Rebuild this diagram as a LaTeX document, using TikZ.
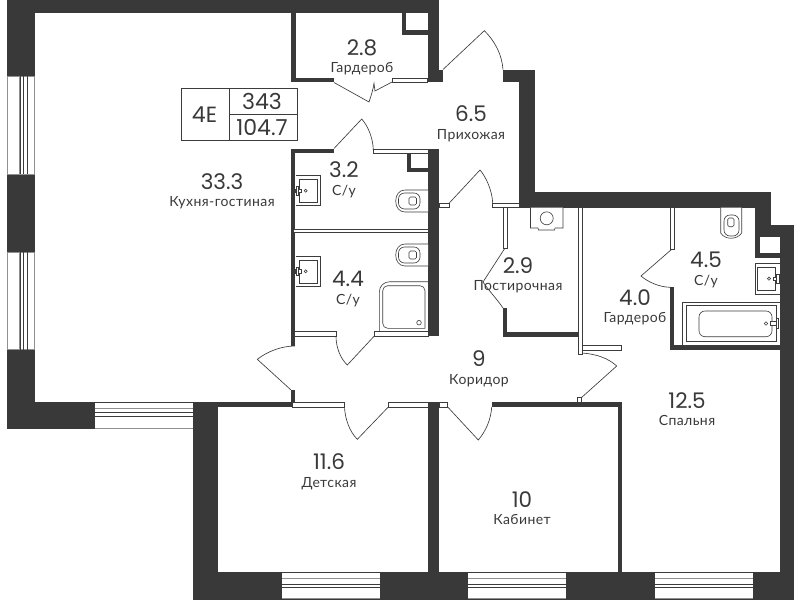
\documentclass[tikz,border=0pt]{standalone}
\usepackage{fontspec}
\setmainfont{Lato}
\newfontfamily\numfont{Poppins}
\newfontfamily\labfont[LetterSpace=3]{Lato}
\definecolor{wallc}{HTML}{393939}
\definecolor{linec}{HTML}{3C3C3C}
\definecolor{greyc}{HTML}{909090}
\tikzset{
  wallfill/.style={fill=wallc,draw=none},
  frameb/.style={fill=white,draw=linec,line width=0.7pt},
  thinl/.style={draw=linec,line width=0.65pt},
  fix/.style={draw=linec,line width=0.6pt,fill=white},
  greyl/.style={draw=greyc,line width=1pt},
  numt/.style={font=\numfont\fontsize{21.5}{21.5}\selectfont,text=wallc,inner sep=0pt,yshift=0.5pt},
  labt/.style={font=\labfont\fontsize{14}{14}\selectfont,text=wallc,inner sep=0pt,anchor=base,yshift=-5pt},
  boxt/.style={font=\numfont\fontsize{22}{22}\selectfont,text=wallc,inner sep=0pt},
}
\newcommand{\Wl}[4]{\fill[wallfill] (#1,#2) rectangle (#3,#4);}
\newcommand{\Fr}[4]{\draw[frameb] (#1,#2) rectangle (#3,#4);}
\begin{document}
\begin{tikzpicture}[x=1pt,y=-1pt]
\useasboundingbox (0,0) rectangle (800,600);
\fill[white] (0,0) rectangle (800,600);
% --- walls
\Wl{7}{0}{439}{13}
\Wl{7}{0}{35}{429}
\Wl{7}{402}{193}{429}
\Wl{193}{402}{218}{600}
\Wl{193}{571.5}{794}{599.5}
\Wl{218}{402}{293}{407}
\Wl{428}{402}{439}{572}
\Wl{491.7}{402}{622}{407}
\Wl{618}{402}{622}{572}
\Wl{780}{225}{794}{600}
\Wl{771}{225}{794}{237}
\Wl{535}{192}{771}{207.7}
\Wl{755}{192}{771}{237}
\Wl{755}{207}{760}{258}
\Wl{755}{252.7}{780}{258}
\Wl{519}{69.5}{535}{207.7}
\Wl{503}{69.5}{535}{82}
\Wl{291}{13}{295.7}{82}
\Wl{291}{78}{334}{82}
\Wl{428}{13}{439}{82}
\Wl{428}{69.5}{443}{82}
\Wl{401.5}{13}{405.7}{35}
\Wl{401.5}{30}{428}{35}
\Wl{291}{149}{334}{153}
\Wl{291}{149}{295}{346}
\Wl{291}{390}{295}{407}
\Wl{428}{149}{439}{336}
\Wl{407}{149}{411.3}{172.3}
\Wl{407}{168}{428}{172.3}
\Wl{503.3}{308}{507.3}{336.5}
\Wl{503.3}{332.3}{580}{336.5}
\Wl{670}{287.3}{674.3}{349.5}
\Wl{670}{345}{780}{349.5}
% --- left windows
\foreach \ya/\yb in {76/174,252/349.5}{
  \fill[white] (7,\ya) rectangle (35,\yb);
  \draw[greyl] (7.4,\ya) -- (7.4,\yb) (34.6,\ya) -- (34.6,\yb);
  \draw[greyl,line width=0.5pt] (7,\ya) -- (35,\ya) (7,\yb) -- (35,\yb);
  \draw[greyl] (19.2,\ya) -- (19.2,\yb);
  \draw[thinl] (23,\ya) -- (23,\yb) (27.5,\ya) -- (27.5,\yb) (20,\ya) -- (20,\yb);
}
% --- bottom windows
\fill[white] (94.5,402.6) rectangle (193,429);
\draw[thinl] (94.5,402.4) -- (193,402.4) (94.5,412.7) -- (193,412.7) (94.5,416.2) -- (193,416.2);
\draw[greyl] (94.5,408.3) -- (193,408.3) (94.5,428.5) -- (193,428.5);
\foreach \xa/\xb in {282/379.5,468/566,654.7/752.8}{
  \fill[white] (\xa,572) rectangle (\xb,599);
  \draw[greyl] (\xa,578.3) -- (\xb,578.3) (\xa,598.7) -- (\xb,598.7);
  \draw[thinl] (\xa,572.3) -- (\xb,572.3) (\xa,584) -- (\xb,584) (\xa,587.3) -- (\xb,587.3);
}
% --- partition frames
\Fr{392}{78.3}{427.7}{82.3}
\Fr{373.3}{149}{428}{153}
\Fr{293}{229}{428}{232.7}
\Fr{294.3}{331}{336}{336}
\Fr{374.5}{331}{428}{336}
\Fr{292.7}{402}{344.3}{407}
\Fr{388.3}{402}{428}{407}
\Fr{439}{402}{447.7}{407}
\Fr{439.3}{203}{449.3}{207}
\Fr{492.7}{203}{519}{207}
\Fr{503.3}{207}{507.3}{248}
\Fr{578}{207.7}{582.7}{354}
\Fr{582.7}{345}{621}{350}
\Fr{670}{207.7}{674.3}{249}
\Fr{577.7}{397}{581.7}{402}
% --- doors
\draw[thinl] (334,82.5) -- (369,102) .. controls (371,96) and (373,90) .. (374,83.3) .. controls (374.5,86) and (374.5,88.5) .. (375,91) -- (392,82);
\draw[thinl] (443,69.5) -- (484.3,30.7) .. controls (495,41) and (502,55) .. (503,69.5);
\draw[thinl] (334,148.5) -- (361.7,119) .. controls (368,126) and (373,138) .. (373.3,150);
\draw[thinl] (449.3,203) -- (480,170) .. controls (486,177) and (492,190) .. (492.7,203);
\draw[thinl] (505,248) -- (483,282) .. controls (489,291) and (497,299) .. (503,308);
\draw[thinl] (582,353) .. controls (596,354) and (608,358) .. (616.7,366) -- (581,398);
\draw[thinl] (672,249) -- (641,276) .. controls (648,282) and (659,287) .. (670,287.3);
\draw[thinl] (295,346) .. controls (282,346) and (268,351) .. (257.3,359.3) -- (291,390);
\draw[thinl] (336,336) .. controls (336,347) and (340,358) .. (347.3,365) -- (374.3,336);
\draw[thinl] (344.5,407) .. controls (345,418) and (349,431) .. (357.3,439.3) -- (388.3,407);
\draw[thinl] (447.7,407) -- (478.3,440) .. controls (486,431) and (491,419) .. (491.7,407);
% --- sinks, left
\draw[fix] (295.7,175) -- (320,175) -- (320,205.7) -- (295.7,205.7);
\draw[fix] (299.3,179.3) rectangle (317.3,202.3);
\draw[fix] (305.7,190.7) circle (1.5);
\draw[fix] (295.5,189) rectangle (301.5,192.5);
\draw[fix] (296,186.5) rectangle (298.5,195);
\draw[fix] (295.7,256.7) -- (320,256.7) -- (320,286.7) -- (295.7,286.7);
\draw[fix] (299.3,260) rectangle (317.3,283.3);
\draw[fix] (305.7,271.3) circle (1.5);
\draw[fix] (295.5,269.5) rectangle (301.5,273);
\draw[fix] (296,267) rectangle (298.5,275.5);
% --- toilets, left-opening
\foreach \yo in {190,244}{
  \draw[fix] (428,\yo) -- (405,\yo) .. controls (399,\yo) and (395.7,\yo+5) .. (395.7,\yo+11) .. controls (395.7,\yo+17) and (399,\yo+22) .. (405,\yo+22) -- (428,\yo+22);
  \draw[fix,rounded corners=6pt] (398.5,\yo+3) rectangle (420,\yo+19);
  \draw[fix,rounded corners=1.5pt] (409,\yo+7) rectangle (416.5,\yo+15);
}
% --- shower
\draw[fix] (428,281.7) -- (390,281.7) .. controls (384,281.7) and (379.3,286) .. (379.3,292) -- (379.3,331);
\draw[fix,rounded corners=5pt] (425,328.3) -- (382.7,328.3) -- (382.7,285.7) -- (425,285.7) [sharp corners] -- cycle;
\draw[fix] (419,322.7) circle (2.3);
% --- utility room fixture
\draw[fix] (530.5,207.7) -- (530.5,228) -- (538,228) -- (538.5,230) -- (554.5,230) -- (555,228) -- (563,228) -- (563,207.7);
\draw[fix] (546.7,218.3) circle (6.5);
% --- 4.5 fixtures
\draw[fix] (741.7,207.7) -- (741.7,233) .. controls (737,240) and (725,240) .. (720.7,233) -- (720.7,207.7);
\draw[fix,rounded corners=6pt] (724,215) rectangle (739,236);
\draw[fix,rounded corners=1.5pt] (727.7,218) rectangle (734,226.7);
\draw[fix] (780,263) -- (755,263) -- (755,294) -- (780,294);
\draw[fix] (757.7,267) rectangle (775.7,290.7);
\draw[fix] (769,278.7) circle (1.6);
\draw[fix] (773,277) rectangle (779,280.5);
\draw[fix] (776.5,274.5) rectangle (779,283);
% --- bath
\draw[fix] (780,302) -- (682.7,302) -- (682.7,345) (780,345) -- (682.7,345);
\draw[fix] (686.7,305) rectangle (776.7,341.7);
\draw[fix,rounded corners=6pt] (699,311) rectangle (772,336.7);
\draw[fix] (766,323.5) circle (1.8);
\draw[fix] (770,321.5) rectangle (778,325.5);
\draw[fix] (776,318.5) rectangle (778.5,328.5);
% --- info box
\draw[thinl,line width=0.9pt] (181.3,88.7) rectangle (297.7,140);
\draw[thinl,line width=0.9pt] (229.3,88.7) -- (229.3,140) (229.3,114.3) -- (297.7,114.3);
\node[boxt] (boxa) at (204.5,114.5) {4E};
\node[boxt] (boxb) at (262,101.5) {343};
\node[boxt] (boxc) at (262,127.5) {104.7};
% --- texts
\node[numt] (n1) at (222,182) {33.3};
\node[labt] (l1) at (222,201) {Кухня-гостиная};
\node[numt] (n2) at (362,48) {2.8};
\node[labt] (l2) at (362,67) {Гардероб};
\node[numt] (n3) at (471,114) {6.5};
\node[labt] (l3) at (471,134) {Прихожая};
\node[numt] (n4) at (344,170) {3.2};
\node[labt] (l4) at (344,190) {С/у};
\node[numt] (n5) at (348,279) {4.4};
\node[labt] (l5) at (348,299) {С/у};
\node[numt] (n6) at (518,266) {2.9};
\node[labt] (l6) at (518,285) {Постирочная};
\node[numt] (n7) at (635,298) {4.0};
\node[labt] (l7) at (635,317) {Гардероб};
\node[numt] (n8) at (706,260) {4.5};
\node[labt] (l8) at (706,280) {С/у};
\node[numt] (n9) at (479,359) {9};
\node[labt] (l9) at (479,379) {Коридор};
\node[numt] (n10) at (687,401) {12.5};
\node[labt] (l10) at (687,420) {Спальня};
\node[numt] (n11) at (329,462) {11.6};
\node[labt] (l11) at (329,482) {Детская};
\node[numt] (n12) at (522,500) {10};
\node[labt] (l12) at (522,519) {Кабинет};
\end{tikzpicture}
\end{document}
